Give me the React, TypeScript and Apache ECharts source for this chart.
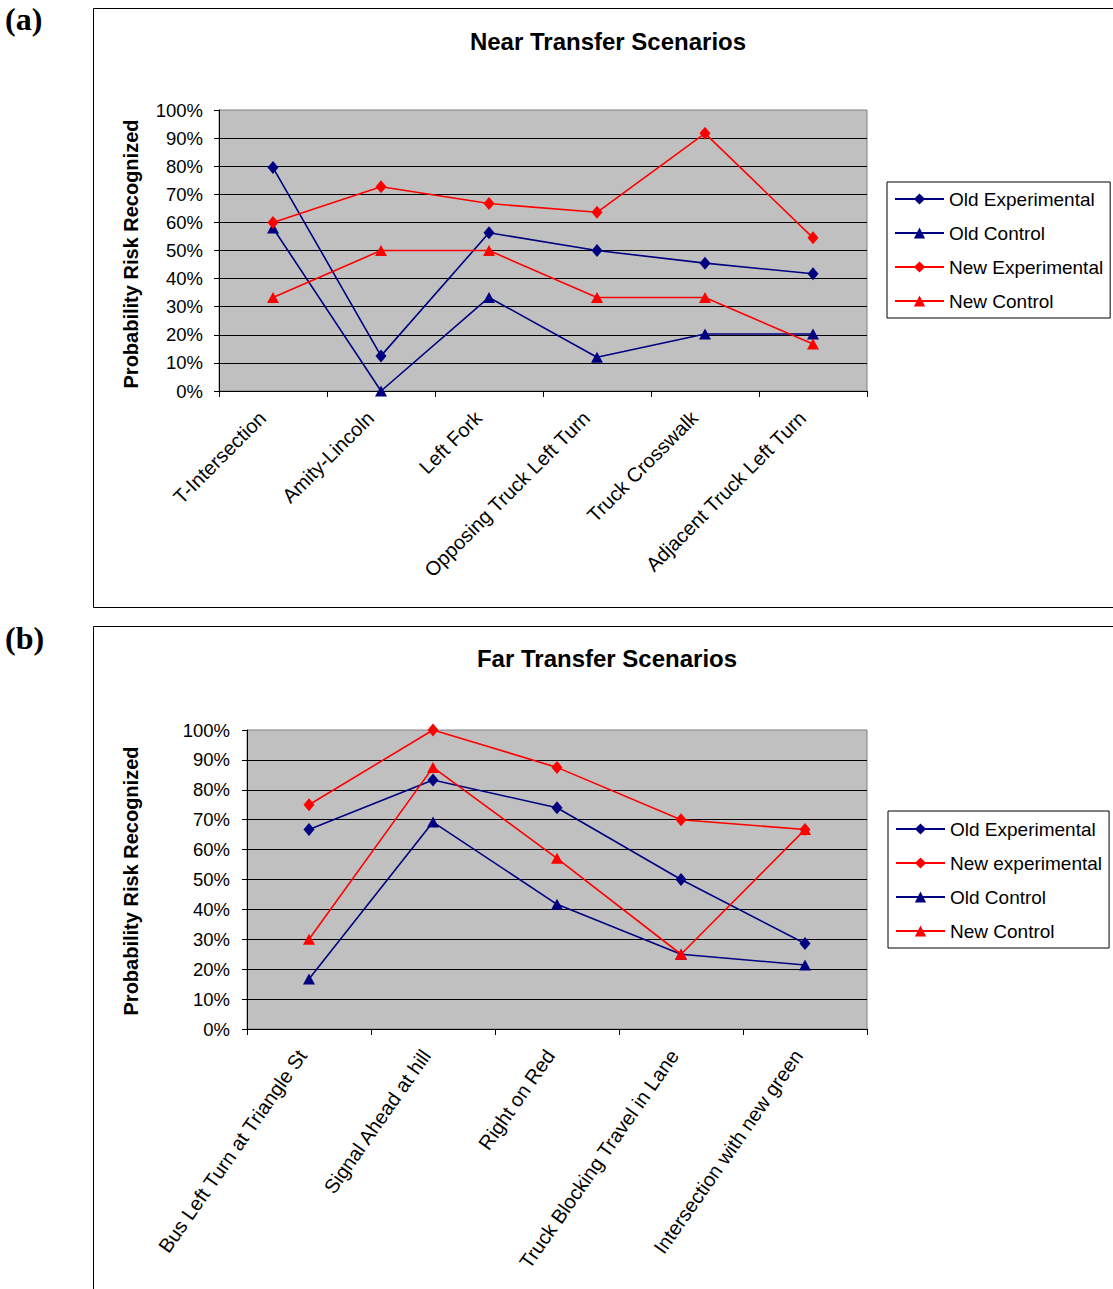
import React, { useEffect, useRef } from "react";
import * as echarts from "echarts";

const nearCategories = [
  "T-Intersection",
  "Amity-Lincoln",
  "Left Fork",
  "Opposing Truck Left Turn",
  "Truck Crosswalk",
  "Adjacent Truck Left Turn",
];
const nearOldExperimental = [79.5, 12.5, 56.3, 50, 45.5, 41.7];
const nearOldControl = [58, 0, 33.3, 12, 20.3, 20.3];
const nearNewExperimental = [60, 72.7, 66.7, 63.6, 91.7, 54.5];
const nearNewControl = [33.3, 50, 50, 33.3, 33.3, 16.7];

const farCategories = [
  "Bus Left Turn at Triangle St",
  "Signal Ahead at hill",
  "Right on Red",
  "Truck Blocking Travel in Lane",
  "Intersection with new green",
];
const farOldExperimental = [66.7, 83.3, 74, 50, 28.6];
const farNewExperimental = [75, 100, 87.5, 70, 66.7];
const farOldControl = [16.7, 69.2, 41.7, 25, 21.4];
const farNewControl = [30, 87.5, 57.1, 25, 66.7];

const nearLegend = ["Old Experimental", "Old Control", "New Experimental", "New Control"];
const farLegend = ["Old Experimental", "New experimental", "Old Control", "New Control"];

const FONT = "'Liberation Sans', Arial, sans-serif";
const NAVY = "#000080";
const RED = "#FF0000";

function yAxis(gridIndex: number, margin: number) {
  return {
    gridIndex,
    type: "value",
    min: 0,
    max: 100,
    interval: 10,
    axisLine: { show: true, lineStyle: { color: "#000", width: 1 } },
    axisTick: { show: true, length: 5, lineStyle: { color: "#000" } },
    axisLabel: {
      formatter: "{value}%",
      margin,
      fontSize: 18.5,
      color: "#000",
      fontFamily: FONT,
    },
    splitLine: {
      show: true,
      showMinLine: false,
      showMaxLine: false,
      lineStyle: { color: "#000", width: 1 },
    },
  };
}

function xAxis(gridIndex: number, data: string[], rotate: number, shift: number) {
  return {
    gridIndex,
    type: "category",
    data,
    boundaryGap: true,
    axisLine: { show: true, lineStyle: { color: "#000", width: 1 } },
    axisTick: { show: true, length: 6, lineStyle: { color: "#000" } },
    axisLabel: {
      rotate,
      interval: 0,
      fontSize: 20,
      margin: 13,
      padding: [0, shift, 0, 0],
      color: "#000",
      fontFamily: FONT,
    },
    splitLine: { show: false },
  };
}

function lineSeries(
  name: string,
  data: number[],
  idx: number,
  color: string,
  symbol: string
) {
  return {
    name,
    type: "line",
    xAxisIndex: idx,
    yAxisIndex: idx,
    data,
    symbol,
    symbolSize: symbol === "diamond" ? [11, 13] : [12, 11],
    showAllSymbol: true,
    lineStyle: { color, width: 1.6 },
    itemStyle: { color },
    emphasis: { disabled: true },
  };
}

function legend(data: string[], left: number, top: number, padding: number[]) {
  return {
    orient: "vertical",
    left,
    top,
    data,
    padding,
    itemWidth: 49,
    itemHeight: 14,
    itemGap: 14,
    backgroundColor: "#fff",
    borderColor: "#000",
    borderWidth: 1,
    selectedMode: false,
    textStyle: { fontSize: 19, lineHeight: 20, color: "#000", fontFamily: FONT },
  };
}

export default function App() {
  const ref = useRef<HTMLDivElement>(null);
  useEffect(() => {
    if (!ref.current) return;
    const chart = echarts.init(ref.current, undefined, { renderer: "svg" });
    const option: any = {
      animation: false,
      backgroundColor: "#fff",
      textStyle: { fontFamily: FONT },
      grid: [
        {
          left: 219,
          top: 110,
          width: 648,
          height: 281,
          show: true,
          backgroundColor: "#C0C0C0",
          borderColor: "#808080",
          borderWidth: 1,
        },
        {
          left: 247,
          top: 730,
          width: 620,
          height: 299,
          show: true,
          backgroundColor: "#C0C0C0",
          borderColor: "#808080",
          borderWidth: 1,
        },
      ],
      xAxis: [xAxis(0, nearCategories, 45, 15), xAxis(1, farCategories, 55, 12)],
      yAxis: [yAxis(0, 16), yAxis(1, 17)],
      legend: [
        legend(nearLegend, 887, 182, [7, 7, 7, 7]),
        legend(farLegend, 888, 811, [8, 7, 7, 7]),
      ],
      series: [
        lineSeries("Old Experimental", nearOldExperimental, 0, NAVY, "diamond"),
        lineSeries("Old Control", nearOldControl, 0, NAVY, "triangle"),
        lineSeries("New Experimental", nearNewExperimental, 0, RED, "diamond"),
        lineSeries("New Control", nearNewControl, 0, RED, "triangle"),
        lineSeries("Old Experimental", farOldExperimental, 1, NAVY, "diamond"),
        lineSeries("Old Control", farOldControl, 1, NAVY, "triangle"),
        lineSeries("New experimental", farNewExperimental, 1, RED, "diamond"),
        lineSeries("New Control", farNewControl, 1, RED, "triangle"),
      ],
      graphic: [
        {
          type: "rect",
          shape: { x: 93.5, y: 8.5, width: 1040, height: 599 },
          style: { fill: "none", stroke: "#000", lineWidth: 1 },
          silent: true,
        },
        {
          type: "rect",
          shape: { x: 93.5, y: 626.5, width: 1040, height: 700 },
          style: { fill: "none", stroke: "#000", lineWidth: 1 },
          silent: true,
        },
        {
          type: "text",
          x: 5,
          y: 19,
          style: {
            text: "(a)",
            font: "bold 32px 'Liberation Serif', 'Times New Roman', serif",
            fill: "#000",
            verticalAlign: "middle",
          },
        },
        {
          type: "text",
          x: 5,
          y: 638,
          style: {
            text: "(b)",
            font: "bold 32px 'Liberation Serif', 'Times New Roman', serif",
            fill: "#000",
            verticalAlign: "middle",
          },
        },
        {
          type: "text",
          x: 608,
          y: 41,
          style: {
            text: "Near Transfer Scenarios",
            font: "bold 24px " + FONT,
            fill: "#000",
            align: "center",
            verticalAlign: "middle",
          },
        },
        {
          type: "text",
          x: 607,
          y: 658,
          style: {
            text: "Far Transfer Scenarios",
            font: "bold 24px " + FONT,
            fill: "#000",
            align: "center",
            verticalAlign: "middle",
          },
        },
        {
          type: "text",
          x: 131,
          y: 254,
          rotation: Math.PI / 2,
          style: {
            text: "Probability Risk Recognized",
            font: "bold 20px " + FONT,
            fill: "#000",
            align: "center",
            verticalAlign: "middle",
          },
        },
        {
          type: "text",
          x: 131,
          y: 881,
          rotation: Math.PI / 2,
          style: {
            text: "Probability Risk Recognized",
            font: "bold 20px " + FONT,
            fill: "#000",
            align: "center",
            verticalAlign: "middle",
          },
        },
      ],
    };
    chart.setOption(option);
    return () => chart.dispose();
  }, []);
  return (
    <div
      ref={ref}
      style={{ position: "absolute", left: 0, top: 0, width: 1113, height: 1289 }}
    />
  );
}
